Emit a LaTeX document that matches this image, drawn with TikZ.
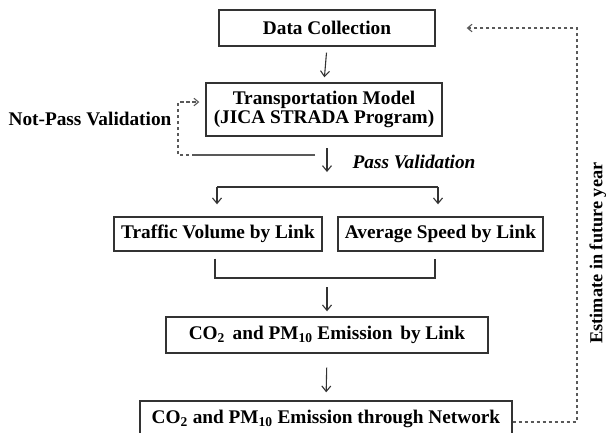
\documentclass[tikz,border=0pt]{standalone}
\usepackage{fontspec}
\setmainfont{Liberation Serif}
\usetikzlibrary{arrows.meta}
\begin{document}
\begin{tikzpicture}[x=1pt,y=-1pt,
  font=\fontsize{19.3}{19.5}\selectfont\bfseries,
  box/.style={draw=black!80, line width=1.4pt, inner sep=0pt, align=center, fill=white},
  arr/.style={draw=black!80, line width=1.1pt, -{Straight Barb[length=5.5pt,width=9pt]}},
  link/.style={draw=black!80, line width=1.1pt},
  fb/.style={draw=black!65, line width=1.1pt, dash pattern=on 3.5pt off 2.5pt},
  fbarr/.style={fb, -{Straight Barb[length=4.5pt,width=7.5pt]}}]
\useasboundingbox (0,0) rectangle (606,432);

% process boxes
\node[box, minimum width=216pt, minimum height=36pt] (dc) at (327,28) {Data Collection};
\node[box, minimum width=236pt, minimum height=53pt] (tm) at (324,109.5)
  {Transportation Model\\(JICA STRADA Program)};
\node[box, minimum width=208pt, minimum height=34pt] (tv) at (218,234) {Traffic Volume by Link};
\node[box, minimum width=205pt, minimum height=34pt] (av) at (440.5,234) {Average Speed by Link};
\node[box, minimum width=322pt, minimum height=36pt] (el) at (327,335)
  {CO\textsubscript{2}\hspace{0.4em}and PM\textsubscript{10} Emission\hspace{0.4em}by Link};
\node[box, minimum width=372pt, minimum height=36pt] (net) at (326,419)
  {CO\textsubscript{2} and PM\textsubscript{10} Emission through Network};

% labels
\node (pv) at (414,162) {\itshape Pass Validation};
\node (npv) at (90,119) {Not-Pass Validation};
\node[rotate=90, font=\fontsize{18.3}{19}\selectfont\bfseries] (fut) at (598,253) {Estimate in future year};

% helper points
\coordinate (p1) at (327,148);
\coordinate (p2) at (327,172);
\coordinate (g1) at (315,155);
\coordinate (g2) at (195,155);
\coordinate (g3) at (178,155);
\coordinate (g4) at (178,102);
\coordinate (sL) at (217,187);
\coordinate (sR) at (438,187);
\coordinate (mL) at (215,278);
\coordinate (mR) at (435,278);
\coordinate (m0) at (327,287);
\coordinate (r1) at (577,422);
\coordinate (r2) at (577,28);

% main flow
\draw[arr, shorten <=6pt, shorten >=5pt] (dc.south) -- (tm.north);
\draw[arr] (p1) -- (p2);
\draw[link] (sR) -- (sL);
\draw[arr, shorten >=12pt] (sL) -- (sL |- tv.north);
\draw[arr, shorten >=12pt] (sR) -- (sR |- av.north);
\draw[link, shorten <=7pt, shorten >=7pt] (mL |- tv.south) -- (mL) -- (mR) -- (mR |- av.south);
\draw[arr, shorten >=5pt] (m0) -- (el.north);
\draw[arr, shorten <=14pt, shorten >=8pt] (el.south) -- (net.north);

% validation loop
\draw[draw=black!65, line width=1.1pt] (g1) -- (g2);
\draw[fbarr, shorten >=6pt] (g2) -- (g3) -- (g4) -- (g4 -| tm.west);

% future-year loop
\draw[fbarr, shorten >=31pt] ([yshift=-3pt]net.east) -- (r1) -- (r2) -- (dc.east);
\end{tikzpicture}
\end{document}
